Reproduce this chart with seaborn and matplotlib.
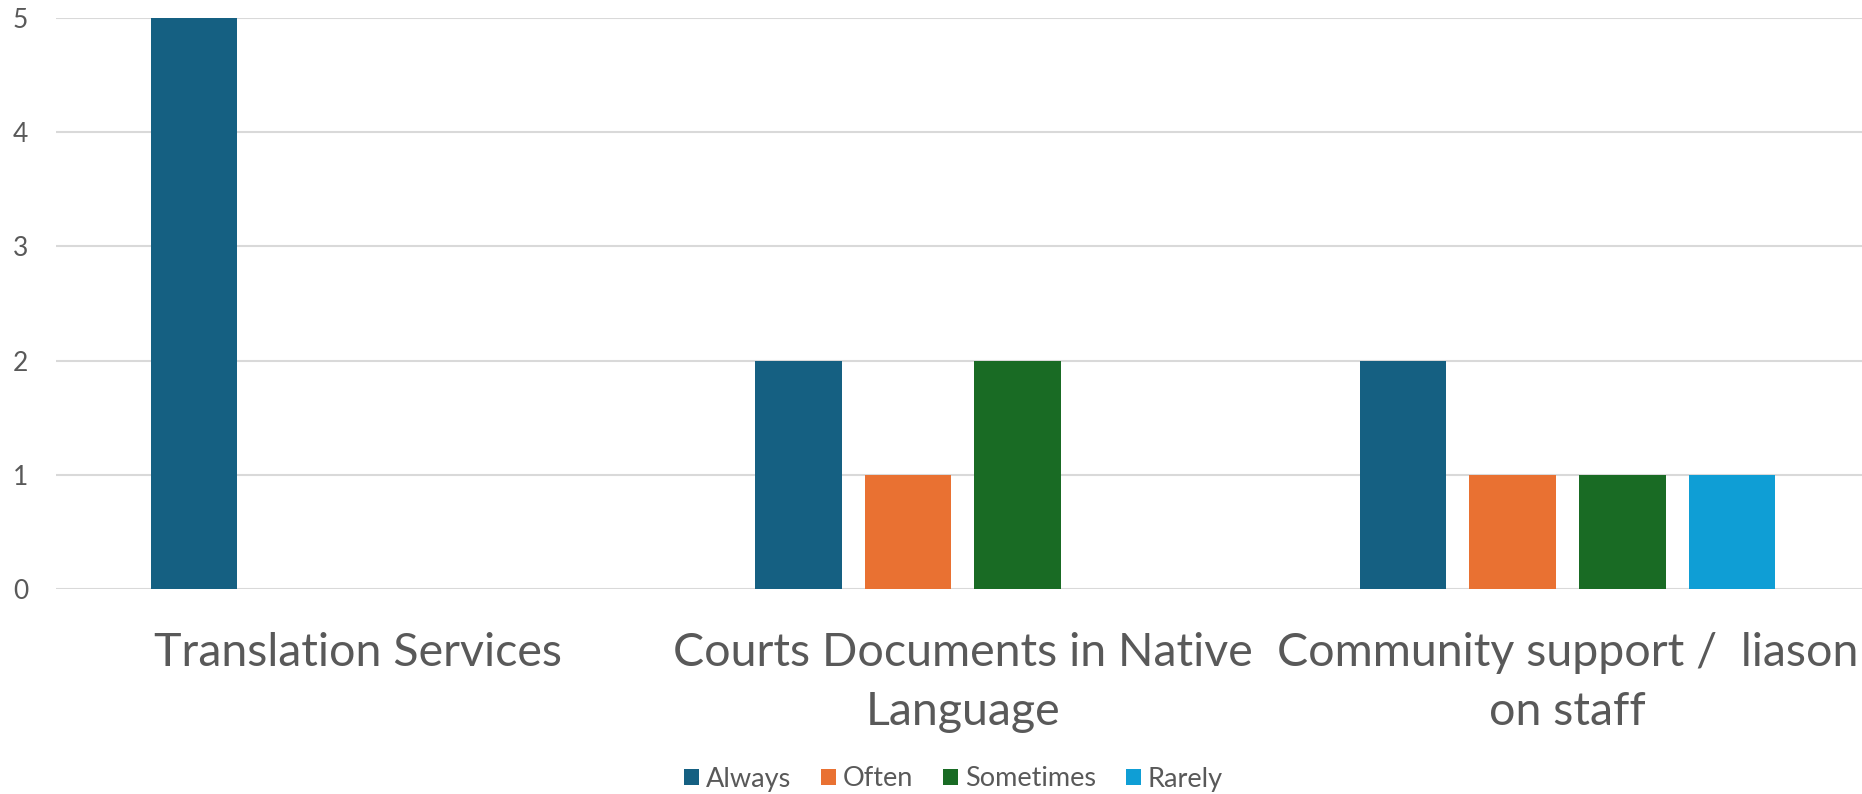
import textwrap
import matplotlib
matplotlib.use("Agg")
import matplotlib.pyplot as plt
from matplotlib.patches import Patch
import pandas as pd
import seaborn as sns

# Survey counts per service and frequency
categories = [
    "Translation Services",
    "Courts Documents in Native Language",
    "Community support /  liason on staff",
]
frequencies = ["Always", "Often", "Sometimes", "Rarely"]
always = [5, 2, 2]
often = [0, 1, 1]
sometimes = [0, 2, 1]
rarely = [0, 0, 1]
y_ticks = [0, 1, 2, 3, 4, 5]

colors = ["#156082", "#E97132", "#196B24", "#0F9ED5"]
text_color = "#595959"
grid_color = "#D9D9D9"

rows = []
for cat, a, o, s, r in zip(categories, always, often, sometimes, rarely):
    for freq, val in zip(frequencies, [a, o, s, r]):
        rows.append({"Service": cat, "Frequency": freq, "Count": val})
df = pd.DataFrame(rows)

sns.set_theme(style="white")
plt.rcParams["font.family"] = ["Lato", "DejaVu Sans"]

fig = plt.figure(figsize=(18.62, 7.94), dpi=100)
ax = fig.add_axes([56 / 1862, 1 - 589 / 794, 1 - 56 / 1862, (589 - 18) / 794])

sns.barplot(
    data=df, x="Service", y="Count", hue="Frequency",
    order=categories, hue_order=frequencies, palette=colors,
    width=0.725, gap=0.21, linewidth=0, saturation=1, legend=False, ax=ax,
)

ax.set_ylim(0, 5)
ax.set_xlim(-0.5, 2.487)
ax.set_yticks(y_ticks)
ax.set_yticklabels([str(t) for t in y_ticks], fontsize=19, color=text_color)
ax.yaxis.grid(True, color=grid_color, linewidth=1.5)
ax.set_axisbelow(True)
for sp in ax.spines.values():
    sp.set_visible(False)

wrapped = [textwrap.fill(c, 27) for c in categories]
ax.set_xticks(range(len(categories)))
ax.set_xticklabels(wrapped, fontsize=33.5, color=text_color, linespacing=1.5)
ax.tick_params(axis="x", length=0, pad=31)
ax.tick_params(axis="y", length=0, pad=20)
ax.set_xlabel("")
ax.set_ylabel("")

handles = [Patch(facecolor=c, edgecolor="none", label=f) for c, f in zip(colors, frequencies)]
fig.legend(
    handles=handles, loc="center", bbox_to_anchor=(0.512, 1 - 779 / 794), ncol=4,
    frameon=False, fontsize=19.5, labelcolor=text_color,
    handlelength=0.56, handleheight=0.56, handletextpad=0.25, columnspacing=1.1,
)

fig.savefig("out.png", dpi=100)
